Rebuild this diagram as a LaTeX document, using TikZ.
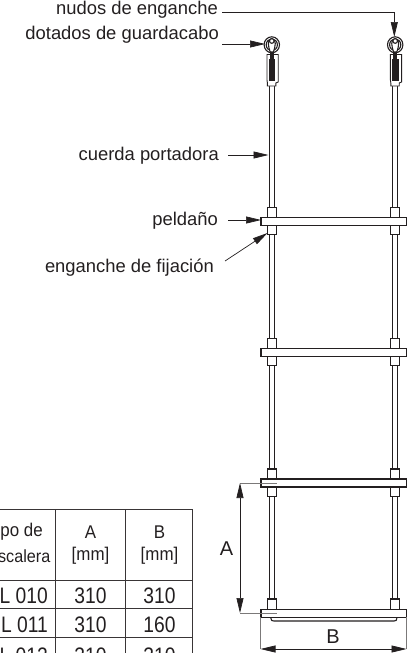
\documentclass[tikz,border=0pt]{standalone}
\usepackage{fontspec}
\setmainfont{Liberation Sans}
\newfontfamily\rowfont[FakeStretch=0.86]{Liberation Sans}
\newfontfamily\headfont[FakeStretch=0.92]{Liberation Sans}
\usetikzlibrary{arrows.meta}
\definecolor{ink}{RGB}{35,31,32}
\tikzset{
  x=1pt,y=-1pt,
  lab/.style={font=\fontsize{18.4}{20}\selectfont,text=ink,inner sep=0pt,anchor=east},
  cell/.style={font=\headfont\fontsize{18.4}{20}\selectfont,text=ink,inner sep=0pt,align=center},
  num/.style={font=\rowfont\fontsize{22.4}{24}\selectfont,text=ink,inner sep=0pt,align=center},
  big/.style={font=\fontsize{20}{21}\selectfont,text=ink,inner sep=0pt},
  lead/.style={draw=ink,line width=0.7pt,-{Triangle[length=15pt,width=7pt]}},
  dim/.style={draw=ink,line width=0.7pt,{Triangle[length=15pt,width=7pt]}-{Triangle[length=15pt,width=7pt]}},
  ext/.style={draw=ink!60,line width=0.7pt},
  rail/.style={draw=ink,line width=1.2pt,fill=white},
  grid/.style={draw=ink!90,line width=1pt},
}
\begin{document}
\begin{tikzpicture}
\useasboundingbox (0,0) rectangle (411,653);
\clip (0,0) rectangle (411,653);
% ropes
\foreach \x in {271.8,395.2}{
  \fill[white] (\x-2.6,86) rectangle (\x+2.6,609);
  \draw[ink,line width=1.2pt] (\x-2.6,86) -- (\x-2.6,609) (\x+2.6,86) -- (\x+2.6,609);
  % thimble and sleeve
  \draw[ink,line width=1.1pt,fill=white] (\x,44.8) ellipse (7.7 and 8);
  \draw[ink,line width=1.1pt] (\x,44.8) ellipse (5.6 and 5.9);
  \draw[ink,line width=1.1pt,fill=white] (\x,38.6) .. controls (\x+5.2,39) and (\x+3.5,47) .. (\x+1.6,52)
     -- (\x-1.6,52) .. controls (\x-3.5,47) and (\x-5.2,39) .. (\x,38.6) -- cycle;
  \draw[ink,line width=1.1pt,fill=white] (\x,41) circle (2.3);
  \draw[ink,line width=0.9pt,fill=white] (\x-4.8,54.5) -- (\x+6.4,54.5) -- (\x+6.4,82) -- (\x+4,83) -- (\x+4,86) -- (\x-4.4,86) -- (\x-4.4,83) -- (\x-4.8,80) -- cycle;
  \fill[ink] (\x-2.8,59) rectangle (\x+3.4,81);
  \fill[ink] (\x-2,52) -- (\x+2,52) -- (\x+2,60) -- (\x-2,60) -- cycle;
  % knots
  \foreach \y in {218,349,479.5,609.5}{
    \draw[ink,line width=1.2pt,fill=white] (\x-4.6,\y-10.5) rectangle (\x+4.6,\y);
  }
  \foreach \y in {225,356,487}{
    \draw[ink,line width=1.2pt,fill=white] (\x-4.6,\y) rectangle (\x+4.6,\y+9.5);
  }
}
% rungs
\foreach \n/\y in {r1/217.5,r2/348.5,r3/479}{
  \draw[rail] (261,\y) rectangle (406.6,\y+8);
}
\draw[rail] (261,609.5) rectangle (406.6,617.5);
\draw[ink,line width=1.1pt] (270.8,618) .. controls (271,620.5) and (272,621) .. (274,621) -- (394,621) .. controls (396,621) and (396.7,620.5) .. (396.9,618);
% labels
\node[lab] (knots) at (218,10) {nudos de enganche};
\node[lab] (thimble) at (219,35) {dotados de guardacabo};
\node[lab] (rope) at (219,156) {cuerda portadora};
\node[lab] (rung) at (218,221) {peldaño};
\node[lab] (hook) at (214,268) {enganche de fijación};
\coordinate (knotsA) at (222,12);
\coordinate (knotsB) at (394.3,37);
\coordinate (thimbleA) at (222,44);
\coordinate (thimbleB) at (265,44);
\coordinate (ropeA) at (228,155);
\coordinate (ropeB) at (268.5,155);
\coordinate (rungA) at (228,220);
\coordinate (rungB) at (261,220);
\coordinate (hookA) at (225,261);
\coordinate (hookB) at (267.5,233);
\draw[lead] (knotsA) -| (knotsB);
\draw[lead] (thimbleA) -- (thimbleB);
\draw[lead] (ropeA) -- (ropeB);
\draw[lead] (rungA) -- (rungB);
\draw[lead] (hookA) -- (hookB);
% dimensions
\coordinate (aTop) at (240,483);
\coordinate (aBot) at (240,613);
\coordinate (bL) at (260.5,649);
\coordinate (bR) at (406.5,649);
\draw[ext] (aTop) -- (277,483);
\draw[ext] (aBot) -- (277,613);
\draw[ext] (bL) -- (260.5,617);
\draw[ext] (bR) -- (406.5,617);
\draw[dim] (aTop) -- (aBot);
\draw[dim] (bL) -- (bR);
\node[big] (dimA) at (226.5,549) {A};
\node[big] (dimB) at (333,637) {B};
% table
\draw[grid] (0,509) -- (192,509) (0,580.7) -- (192,580.7) (0,608) -- (192,608) (0,637.5) -- (192,637.5);
\draw[grid] (55.3,509) -- (55.3,653) (125.7,509) -- (125.7,653) (192,509) -- (192,653);
\node[cell,anchor=east] (h0) at (43,532) {po de};
\node[cell,anchor=east,font=\headfont\fontsize{17.6}{20}\selectfont] (h0b) at (50.5,556) {scalera};
\node[cell] (h1) at (90.5,532) {A};
\node[cell] (h1b) at (90.5,556) {[mm]};
\node[cell] (h2) at (159.5,532) {B};
\node[cell] (h2b) at (159.5,556) {[mm]};
\foreach \a/\b/\c/\y in {L 010/310/310/596,L 011/310/160/625,L 012/310/310/655.5}{
  \node[num,anchor=east] at (48,\y) {\a};
  \node[num] at (90.5,\y) {\b};
  \node[num] at (159.5,\y) {\c};
}
\end{tikzpicture}
\end{document}
